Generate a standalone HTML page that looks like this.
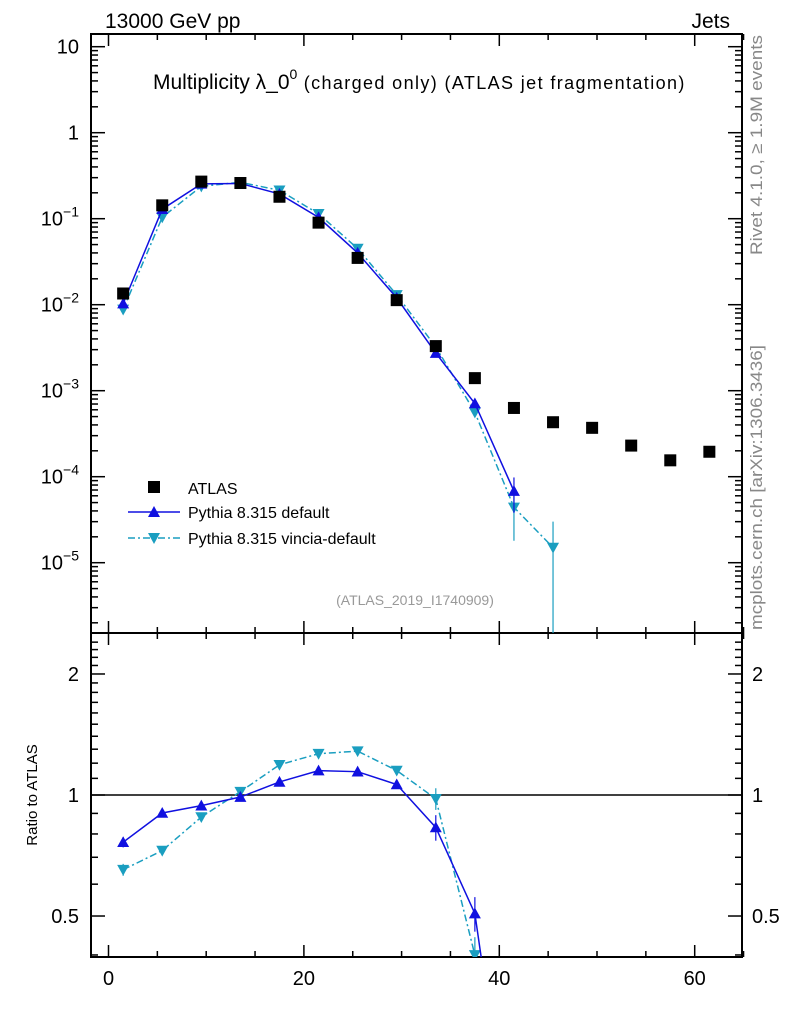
<!DOCTYPE html>
<html><head><meta charset="utf-8"><style>
html,body{margin:0;padding:0;width:786px;height:1024px;background:#fff;overflow:hidden;}
svg{font-family:"Liberation Sans",sans-serif;display:block;position:absolute;left:0;top:0;}
</style></head><body>
<svg id="c" width="786" height="1024" xmlns="http://www.w3.org/2000/svg">
<g id="g"></g>
<g font-family="Liberation Sans, sans-serif">
<text x="105" y="28" font-size="21">13000 GeV pp</text>
<text x="730" y="28" font-size="21" text-anchor="end">Jets</text>
<text x="153" y="89" font-size="21">Multiplicity λ_0<tspan dy="-10" font-size="14">0</tspan><tspan dy="10" font-size="18" textLength="387" lengthAdjust="spacing"> (charged only) (ATLAS jet fragmentation)</tspan></text>
<text x="415" y="605" font-size="14" fill="#999" text-anchor="middle">(ATLAS_2019_I1740909)</text>
<text transform="translate(762,255) rotate(-90)" font-size="17" fill="#888" textLength="220" lengthAdjust="spacingAndGlyphs">Rivet 4.1.0, ≥ 1.9M events</text>
<text transform="translate(762,630) rotate(-90)" font-size="17" fill="#888" textLength="285" lengthAdjust="spacingAndGlyphs">mcplots.cern.ch [arXiv:1306.3436]</text>
<text transform="translate(37,795) rotate(-90)" font-size="15" text-anchor="middle">Ratio to ATLAS</text>
<g>
<rect x="148" y="481" width="12" height="12" fill="#000"/>
<text x="188" y="494" font-size="16">ATLAS</text>
<line x1="128" x2="180" y1="512" y2="512" stroke="#1010e0" stroke-width="1.5"/>
<polygon points="154,506 148,517 160,517" fill="#1010e0"/>
<text x="188" y="518" font-size="16">Pythia 8.315 default</text>
<line x1="128" x2="180" y1="538" y2="538" stroke="#1a9ec0" stroke-width="1.5" stroke-dasharray="7,3,2,3"/>
<polygon points="154,544 148,533 160,533" fill="#1a9ec0"/>
<text x="188" y="544" font-size="16">Pythia 8.315 vincia-default</text>
</g>
</g>
</svg>
<script>
const xCenters=[1.5,5.5,9.5,13.5,17.5,21.5,25.5,29.5,33.5,37.5,41.5,45.5,49.5,53.5,57.5,61.5];
const atlas=[0.0135,0.143,0.27,0.26,0.18,0.09,0.035,0.0113,0.0033,0.0014,0.00063,0.00043,0.00037,0.00023,0.000155,0.000195];
const pyDef=[0.0103,0.129,0.254,0.257,0.194,0.1035,0.040,0.0120,0.00274,0.00071,0.000068];
const pyDefErr=[0.0003,0.002,0.003,0.003,0.002,0.0015,0.0006,0.0002,0.0002,0.00007,0.00003];
const pyVin=[0.0088,0.104,0.238,0.265,0.214,0.114,0.045,0.013,0.00323,0.00056,0.000044,0.000015];
const pyVinErr=[0.0003,0.002,0.003,0.003,0.002,0.0015,0.0006,0.0002,0.0002,0.00006,0.000026,0.000015];
const xTicks=[0,20,40,60];
const yTicksMain=[1,0,-1,-2,-3,-4,-5];
const ratioTicks=[0.5,1,2];

const L=91,R=742,T=34,M=633,B=957;
const X=v=>108.5+v*9.77;
const Y=v=>46.7+(1-Math.log10(v))*86;
const RY=r=>795-Math.log10(r)*402;
const NS="http://www.w3.org/2000/svg";
const g=document.getElementById('g');
function el(t,a,p){const e=document.createElementNS(NS,t);for(const k in a)e.setAttribute(k,a[k]);(p||g).appendChild(e);return e;}

const defs=el('defs',{});
const c1=el('clipPath',{id:'cm'},defs);el('rect',{x:L,y:T,width:R-L,height:M-T},c1);
const c2=el('clipPath',{id:'cr'},defs);el('rect',{x:L,y:M,width:R-L,height:B-M},c2);

let f=el('rect',{x:L,y:T,width:R-L,height:M-T,fill:'none',stroke:'#000','stroke-width':2});


f=el('rect',{x:L,y:M,width:R-L,height:B-M,fill:'none',stroke:'#000','stroke-width':2});



for(let v=0;v<=65;v+=5){
  const maj=v%20===0,len=maj?12:6,x=X(v);
  [[T,1],[M,-1],[M,1],[B,-1]].forEach(([y0,d])=>el('line',{x1:x,x2:x,y1:y0,y2:y0+d*len,stroke:'#000','stroke-width':1.5}));
}
xTicks.forEach(v=>{const t=el('text',{x:X(v),y:985,'font-size':20,'text-anchor':'middle'});t.textContent=v;

});

for(let e=-6;e<=1;e++){
  for(let k=1;k<=9;k++){
    const v=k*Math.pow(10,e),y=Y(v);
    if(y<T||y>M)continue;
    const len=k===1?14:7;
    el('line',{x1:L,x2:L+len,y1:y,y2:y,stroke:'#000','stroke-width':1.5});
    el('line',{x1:R,x2:R-len,y1:y,y2:y,stroke:'#000','stroke-width':1.5});
  }
}
yTicksMain.forEach(e=>{
  const y=Y(Math.pow(10,e))+7;
  const t=el('text',{x:79,y:y,'font-size':20,'text-anchor':'end'});
  if(e===1)t.textContent='10';else if(e===0)t.textContent='1';
  else{t.textContent='10';const s=el('tspan',{dy:-9,'font-size':14},t);s.textContent=String(e).replace('-','\u2212');}
  
  
});

for(let r=0.4;r<=2.5;r+=0.1){
  const y=RY(r);if(y<M||y>B)continue;
  const maj=Math.abs(r-0.5)<1e-6||Math.abs(r-1)<1e-6||Math.abs(r-2)<1e-6;
  const len=maj?14:7;
  el('line',{x1:L,x2:L+len,y1:y,y2:y,stroke:'#000','stroke-width':1.5});
  el('line',{x1:R,x2:R-len,y1:y,y2:y,stroke:'#000','stroke-width':1.5});
}
ratioTicks.forEach(r=>{
  let t=el('text',{x:79,y:RY(r)+7,'font-size':20,'text-anchor':'end'});t.textContent=r;
  
  
  t=el('text',{x:752,y:RY(r)+7,'font-size':20});t.textContent=r;
  
  
});
el('line',{x1:L,x2:R,y1:RY(1),y2:RY(1),stroke:'#000','stroke-width':1.5});

const gm=el('g',{'clip-path':'url(#cm)'});
const gr=el('g',{'clip-path':'url(#cr)'});
function tri(x,y,up,col,par,name){
  const s=6;
  const pts=up?`${x},${y-s} ${x-s},${y+s*0.8} ${x+s},${y+s*0.8}`:`${x},${y+s} ${x-s},${y-s*0.8} ${x+s},${y-s*0.8}`;
  const p=el('polygon',{points:pts,fill:col},par);
  
  
}
function series(vals,errs,col,dash,up,name){
  let d='';vals.forEach((v,i)=>{d+=(i?'L':'M')+X(xCenters[i])+','+Y(v);});
  el('path',{d:d,fill:'none',stroke:col,'stroke-width':1.5,'stroke-dasharray':dash},gm);
  let d2='';vals.forEach((v,i)=>{d2+=(i?'L':'M')+X(xCenters[i])+','+RY(v/atlas[i]);});
  el('path',{d:d2,fill:'none',stroke:col,'stroke-width':1.5,'stroke-dasharray':dash},gr);
  vals.forEach((v,i)=>{
    const x=X(xCenters[i]);
    const lo=Math.max(v-errs[i],1e-9),hi=v+errs[i];
    el('line',{x1:x,x2:x,y1:Y(lo),y2:Y(hi),stroke:col,'stroke-width':1.2},gm);
    el('line',{x1:x,x2:x,y1:RY(lo/atlas[i]),y2:RY(hi/atlas[i]),stroke:col,'stroke-width':1.2},gr);
    tri(x,Y(v),up,col,gm,name+'-point');
    tri(x,RY(v/atlas[i]),up,col,gr,name+'-ratio-point');
  });
}
series(pyVin,pyVinErr,'#1a9ec0','7,3,2,3',false,'vincia');
series(pyDef,pyDefErr,'#1010e0','',true,'pythia-default');
atlas.forEach((v,i)=>{
  const r=el('rect',{x:X(xCenters[i])-6,y:Y(v)-6,width:12,height:12,fill:'#000'},gm);
  
  
});
</script>
</body></html>
